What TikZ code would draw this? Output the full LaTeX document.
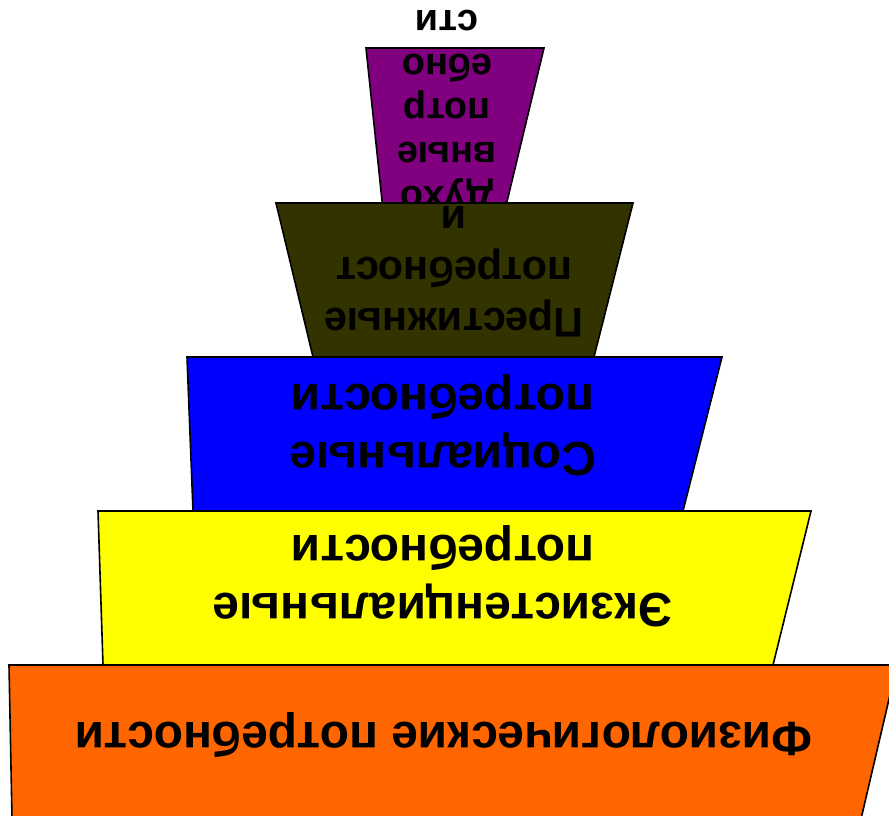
\documentclass[tikz,border=0pt]{standalone}
\usepackage{fontspec}
\setmainfont{Liberation Sans}
\definecolor{cOrange}{HTML}{FF6600}
\definecolor{cYellow}{HTML}{FFFF00}
\definecolor{cBlue}{HTML}{0000FF}
\definecolor{cOlive}{HTML}{333300}
\definecolor{cPurple}{HTML}{800080}
\tikzset{
  tier/.style={draw=black, line width=1.6pt, line join=miter},
  lbl/.style={rotate=180, align=center, inner sep=0pt, font=\bfseries, text=black},
}
\begin{document}
\begin{tikzpicture}[x=1pt,y=-1pt]
\useasboundingbox (0,0) rectangle (889,816);
\clip (0,0) rectangle (889,816);
% purple
\filldraw[tier, fill=cPurple] (366,48) -- (544,48) -- (505,210) -- (383,210) -- cycle;
\node[lbl, font=\bfseries\fontsize{38}{44}\selectfont] (t5) at (447,111) {Духо\\вные\\потр\\ебно\\сти};
% olive
\filldraw[tier, fill=cOlive] (276,203) -- (633,203) -- (594,357) -- (313,357) -- cycle;
\node[lbl, font=\bfseries\fontsize{41.5}{51}\selectfont] (t4) at (454,272) {Престижные\\потребност\\и};
% blue
\filldraw[tier, fill=cBlue] (187,357) -- (722,357) -- (683,511) -- (193,511) -- cycle;
\node[lbl, font=\bfseries\fontsize{48}{58}\selectfont] (t3) at (443,425) {Социальные\\потребности};
% yellow
\filldraw[tier, fill=cYellow] (98,511) -- (811,511) -- (773,665) -- (103,665) -- cycle;
\node[lbl, font=\bfseries\fontsize{48}{58}\selectfont] (t2) at (443,576) {Экзистенциальные\\потребности};
% orange
\filldraw[tier, fill=cOrange] (9,665) -- (897,665) -- (861,819) -- (12,819) -- cycle;
\node[lbl, font=\bfseries\fontsize{48}{58}\selectfont] (t1) at (444,735) {Физиологические потребности};
\end{tikzpicture}
\end{document}
